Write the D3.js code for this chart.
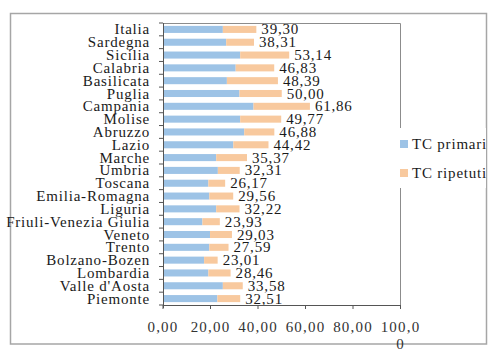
<!DOCTYPE html>
<html>
<head>
<meta charset="utf-8">
<script src="https://cdn.jsdelivr.net/npm/d3@7"></script>
<style>
  html, body { margin: 0; padding: 0; background: #fff; }
  svg { display: block; }
  text { font-family: "Liberation Serif", "Times New Roman", serif; }
</style>
</head>
<body>
<script>
const categories = ["Italia","Sardegna","Sicilia","Calabria","Basilicata","Puglia","Campania","Molise","Abruzzo","Lazio","Marche","Umbria","Toscana","Emilia-Romagna","Liguria","Friuli-Venezia Giulia","Veneto","Trento","Bolzano-Bozen","Lombardia","Valle d'Aosta","Piemonte"];
const primari = [25.2,26.6,32.5,30.6,26.9,32.2,38.1,32.5,34.2,29.6,22.4,23.1,19.1,19.5,22.4,16.6,19.8,19.5,17.3,19.1,25.2,22.9];
const totali = [39.30,38.31,53.14,46.83,48.39,50.00,61.86,49.77,46.88,44.42,35.37,32.31,26.17,29.56,32.22,23.93,29.03,27.59,23.01,28.46,33.58,32.51];
const ripetuti = totali.map((t, i) => +(t - primari[i]).toFixed(2));
const totalLabels = ["39,30","38,31","53,14","46,83","48,39","50,00","61,86","49,77","46,88","44,42","35,37","32,31","26,17","29,56","32,22","23,93","29,03","27,59","23,01","28,46","33,58","32,51"];
const tickValues = [0,20,40,60,80,100];
const tickLabels = ["0,00","20,00","40,00","60,00","80,00","100,00"];
const seriesNames = ["TC primari","TC ripetuti"];
const seriesColors = ["#9dc3e6","#f8c99e"];

const W = 490, H = 350;
const svg = d3.select("body").append("svg").attr("width", W).attr("height", H);
svg.append("rect").attr("width", W).attr("height", H).attr("fill", "#fff");

// outer frame
svg.append("rect").attr("x", 10.5).attr("y", 13.5).attr("width", 476).attr("height", 330.5)
  .attr("fill", "none").attr("stroke", "#a6a6a6").attr("stroke-width", 1.5);

const pLeft = 163, pRight = 400.5, pTop = 23, pBottom = 305;
const x = d3.scaleLinear().domain([0, 100]).range([pLeft, pRight]);
const y = d3.scaleBand().domain(categories).range([pTop, pBottom]).paddingInner(0.45).paddingOuter(0.225);

// plot frame (top & right)
svg.append("path").attr("d", `M${pLeft},${pTop + 0.5}H${pRight}V${pBottom}`)
  .attr("fill", "none").attr("stroke", "#8c8c8c").attr("stroke-width", 1);

const rows = categories.map((c, i) => ({c, p: primari[i], r: ripetuti[i], t: totali[i], lab: totalLabels[i]}));

const stacked = d3.stack().keys(["p", "r"])(rows);
svg.append("g").selectAll("g").data(stacked).join("g")
  .attr("fill", (d, i) => seriesColors[i])
  .selectAll("rect").data(d => d).join("rect")
  .attr("x", d => x(d[0]))
  .attr("width", d => x(d[1]) - x(d[0]))
  .attr("y", d => y(d.data.c))
  .attr("height", y.bandwidth());

// value labels
svg.append("g").selectAll("text").data(rows).join("text")
  .attr("x", d => x(d.t) + 5)
  .attr("y", d => y(d.c) + y.bandwidth() / 2 + 5)
  .attr("font-size", 15).attr("letter-spacing", 0.8).attr("fill", "#1a1a1a")
  .text(d => d.lab);

// y axis
const yAxis = svg.append("g");
yAxis.append("line").attr("x1", pLeft + 0.5).attr("x2", pLeft + 0.5).attr("y1", pTop).attr("y2", pBottom + 3)
  .attr("stroke", "#555");
const bounds = d3.range(categories.length + 1).map(i => pTop + i * (pBottom - pTop) / categories.length);
yAxis.selectAll("line.t").data(bounds).join("line").attr("class", "t")
  .attr("x1", pLeft - 4).attr("x2", pLeft).attr("y1", d => d).attr("y2", d => d).attr("stroke", "#555");
yAxis.selectAll("text").data(categories).join("text")
  .attr("x", 150).attr("y", d => y(d) + y.bandwidth() / 2 + 5)
  .attr("text-anchor", "end").attr("font-size", 15).attr("letter-spacing", 0.8).attr("fill", "#1a1a1a")
  .text(d => d);

// x axis
const xAxis = svg.append("g");
xAxis.append("line").attr("x1", pLeft).attr("x2", pRight).attr("y1", pBottom + 0.5).attr("y2", pBottom + 0.5).attr("stroke", "#555");
xAxis.selectAll("line.t").data(tickValues).join("line").attr("class", "t")
  .attr("x1", d => x(d)).attr("x2", d => x(d)).attr("y1", pBottom).attr("y2", pBottom + 4).attr("stroke", "#555");
const tl = xAxis.selectAll("text").data(tickValues).join("text")
  .attr("x", d => x(d)).attr("y", 332)
  .attr("text-anchor", "middle").attr("font-size", 15).attr("letter-spacing", 1.2).attr("fill", "#333");
tl.each(function(d, i) {
  const s = tickLabels[i];
  const lines = s.length > 5 ? [s.slice(0, 5), s.slice(5)] : [s];
  d3.select(this).selectAll("tspan").data(lines).join("tspan")
    .attr("x", x(d)).attr("dy", (l, j) => j === 0 ? 0 : 17).text(l => l);
});

// legend
const lg = svg.append("g");
lg.append("rect").attr("x", 396).attr("y", 128).attr("width", 90).attr("height", 60).attr("fill", "#fff");
seriesNames.forEach((n, i) => {
  const yy = 140 + i * 29;
  lg.append("rect").attr("x", 400).attr("y", yy).attr("width", 8).attr("height", 8).attr("fill", seriesColors[i]);
  lg.append("text").attr("x", 412).attr("y", yy + 9).attr("font-size", 15).attr("letter-spacing", 0.8)
    .attr("fill", "#1a1a1a").text(n);
});
</script>
</body>
</html>
